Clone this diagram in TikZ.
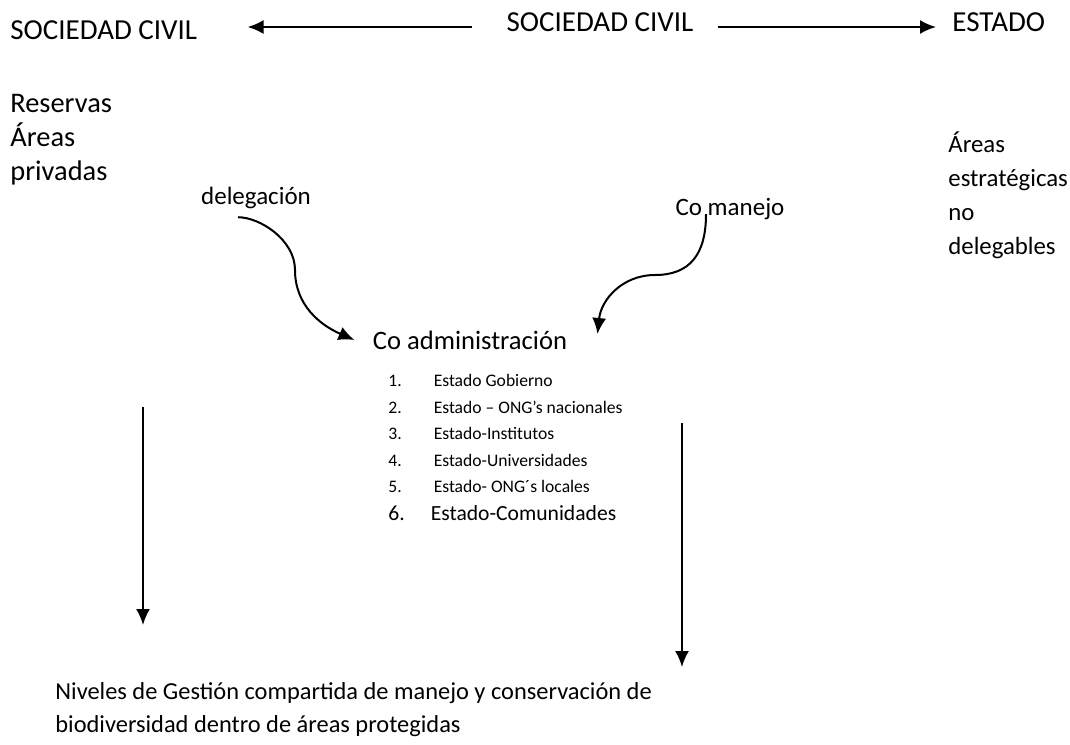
\documentclass[tikz,border=0pt]{standalone}
\usepackage{fontspec}
\setmainfont{Carlito}
\usetikzlibrary{arrows.meta, positioning}

\tikzset{
    txt/.style={inner sep=0pt, font=\fontsize{13.3}{16}\selectfont},
    top/.style={inner sep=0pt, font=\fontsize{14.5}{17}\selectfont},
    col/.style={inner sep=0pt, align=left, anchor=north west, font=\fontsize{14.2}{17}\selectfont},
    item/.style={inner sep=0pt, anchor=base west, font=\fontsize{8.8}{11}\selectfont},
    flecha/.style={-{Latex[length=8pt, width=7pt]}, line width=1pt},
}

\begin{document}
\begin{tikzpicture}[x=0.5pt, y=-0.5pt]
    % Frame
    \useasboundingbox (0,0) rectangle (1070,744);

    % Top row
    \node[top, anchor=west] (scl) at (10,30) {SOCIEDAD CIVIL};
    \node[top] (sc) at (600,22) {SOCIEDAD CIVIL};
    \node[top, anchor=west] (est) at (952,22) {ESTADO};
    \draw[flecha, shorten <=17pt, shorten >=25pt] (sc.west |- 0,27) -- (scl.east |- 0,27);
    \draw[flecha, shorten <=12pt, shorten >=8pt] (sc.east |- 0,27) -- (est.west |- 0,27);

    % Side columns
    \node[col] (priv) at (10,94) {Reservas\\Áreas\\privadas};
    \node[col, font=\fontsize{12.4}{17}\selectfont] (estr) at (948,131) {Áreas\\estratégicas\\no\\delegables};

    % Labels of the curves
    \node[txt, font=\fontsize{12.5}{16}\selectfont] (deleg) at (256,198) {delegación};
    \node[txt, font=\fontsize{12.5}{16}\selectfont] (coman) at (730,209) {Co manejo};
    \node[txt] (coadm) at (470,340) {Co administración};

    % Curved arrows
    \draw[flecha] ([xshift=-9pt, yshift=-4pt]deleg.south) .. controls +(22,0) and (295,240) .. (295,270)
        .. controls (295,305) and (320,325) .. ([xshift=-9pt]coadm.west);
    \draw[flecha] ([xshift=-12pt, yshift=3pt]coman.south) .. controls +(0,40) and (690,275) .. (655,275)
        .. controls (622,275) and (601,300) .. ([xshift=15pt, yshift=3pt]coadm.east);

    % List
    \node[item] (n1) at (388,386) {1.\hspace{16pt}Estado Gobierno};
    \node[item] (n2) at (388,413) {2.\hspace{16pt}Estado – ONG’s nacionales};
    \node[item] (n3) at (388,439) {3.\hspace{16pt}Estado-Institutos};
    \node[item] (n4) at (388,466) {4.\hspace{16pt}Estado-Universidades};
    \node[item] (n5) at (388,492) {5.\hspace{16pt}Estado- ONG´s locales};
    \node[item, font=\fontsize{10.8}{13}\selectfont] (n6) at (388,520) {6.\hspace{13pt}Estado-Comunidades};

    % Vertical arrows
    \coordinate (a1) at (143,407);
    \coordinate (b1) at (143,625);
    \coordinate (a2) at (682,423);
    \coordinate (b2) at (682,667);
    \draw[flecha] (a1) -- (b1);
    \draw[flecha] (a2) -- (b2);

    % Bottom text
    \node[inner sep=0pt, align=left, anchor=north west, font=\fontsize{12.2}{16.5}\selectfont] (niv) at (55,682)
        {Niveles de Gestión compartida de manejo y conservación de\\biodiversidad dentro de áreas protegidas};
\end{tikzpicture}
\end{document}
